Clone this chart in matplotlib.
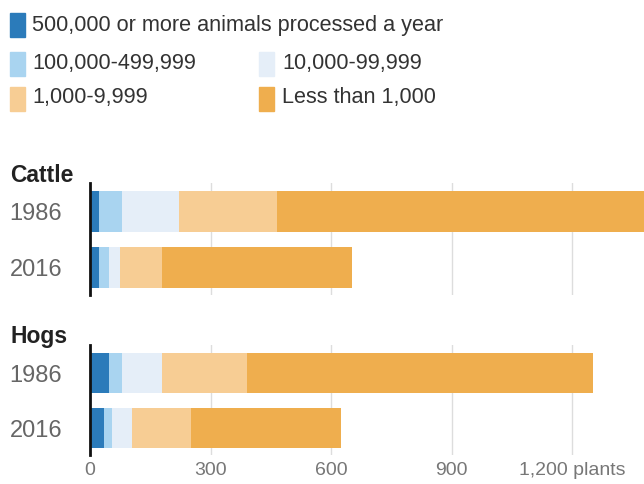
import numpy as np
import matplotlib.pyplot as plt
from matplotlib.patches import Rectangle

plt.rcParams['font.family'] = ['Liberation Sans', 'DejaVu Sans']

# Data: number of plants by size class (animals processed a year)
size_classes = [
    "500,000 or more animals processed a year",
    "100,000-499,999",
    "10,000-99,999",
    "1,000-9,999",
    "Less than 1,000",
]
colors = ["#2b7bba", "#a9d4f0", "#e5eef8", "#f7cd94", "#efae4e"]
years = ["1986", "2016"]

cattle_1986 = [22, 58, 141, 245, 960]
cattle_2016 = [22, 25, 27, 106, 471]
hogs_1986 = [47, 33, 100, 212, 861]
hogs_2016 = [35, 19, 50, 148, 373]

groups = {
    "Cattle": [cattle_1986, cattle_2016],
    "Hogs": [hogs_1986, hogs_2016],
}

ticks = [0, 300, 600, 900, 1200]
tick_labels = ["0", "300", "600", "900", "1,200 plants"]

W, H = 644, 484
fig = plt.figure(figsize=(W / 100, H / 100), dpi=100)

# Legend, drawn by hand (irregular layout)
legend_pos = [(10, 13, 32, 25), (10, 52, 32, 63), (259, 52, 282, 63),
              (10, 87, 32, 98), (259, 87, 282, 98)]
for (sx, sy, tx, ty), lab, c in zip(legend_pos, size_classes, colors):
    fig.patches.append(Rectangle((sx / W, 1 - (sy + 24) / H), 15 / W, 24 / H,
                                 transform=fig.transFigure, color=c))
    fig.text(tx / W, 1 - ty / H, lab, fontsize=15.6, color="#333333",
             va="center", ha="left")

x0 = 90
xmax = (W - x0) / 0.4017
panels = [("Cattle", 183, 295, 175), ("Hogs", 345, 455, 336)]

for name, top, bottom, title_y in panels:
    ax = fig.add_axes([x0 / W, 1 - bottom / H, (W - x0) / W, (bottom - top) / H])
    data = np.array(groups[name])
    y = np.arange(len(years))
    left = np.zeros(len(years))
    for j in range(data.shape[1]):
        ax.barh(y, data[:, j], left=left, height=0.72, color=colors[j],
                zorder=2)
        left += data[:, j]
    ax.set_xlim(0, xmax)
    ax.set_ylim(1.49, -0.51)
    ax.set_xticks(ticks)
    ax.grid(axis="x", color="#dddddd", linewidth=1, zorder=0)
    ax.set_yticks(y)
    ax.set_yticklabels(years, fontsize=17, color="#666666")
    ax.tick_params(axis="y", length=0, pad=20)
    for s in ["top", "right", "bottom"]:
        ax.spines[s].set_visible(False)
    ax.spines["left"].set_linewidth(2)
    ax.spines["left"].set_color("#111111")
    ax.spines["left"].set_zorder(3)
    if name == "Hogs":
        ax.set_xticklabels(tick_labels, fontsize=14, color="#777777")
        ax.tick_params(axis="x", length=0, pad=5)
    else:
        ax.tick_params(axis="x", length=0, labelbottom=False)
    fig.text(10 / W, 1 - title_y / H, name, fontsize=16.5, fontweight="bold",
             color="#222222", va="center", ha="left")

fig.savefig("out.png", dpi=100)
